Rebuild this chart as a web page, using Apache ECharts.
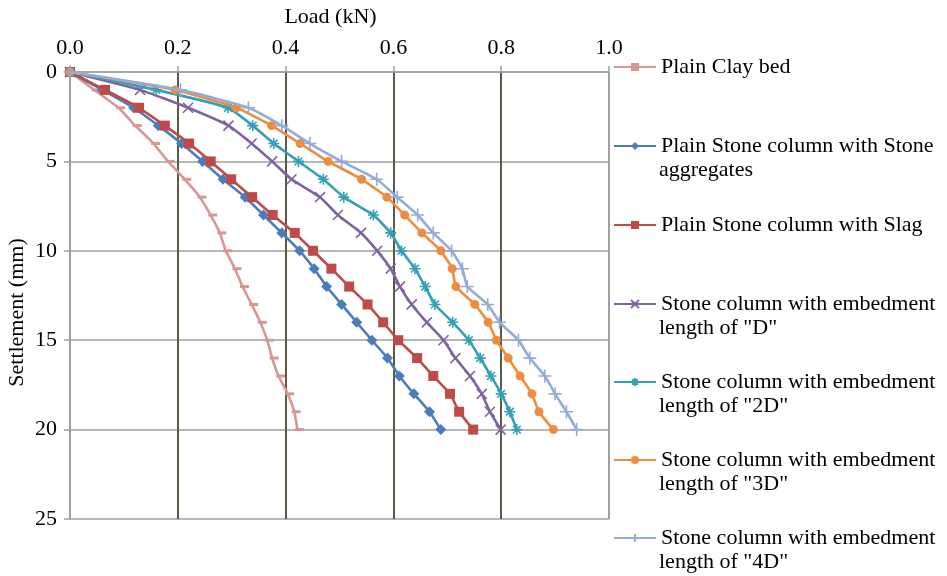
<!DOCTYPE html>
<html>
<head>
<meta charset="utf-8">
<script src="https://cdn.jsdelivr.net/npm/echarts@6/dist/echarts.min.js"></script>
<style>
html,body{margin:0;padding:0;background:#fff;}
#chart{width:947px;height:576px;}
</style>
</head>
<body>
<div id="chart"></div>
<script>
// Settlement (mm) at each reading
const settlement = [0,1,2,3,4,5,6,7,8,9,10,11,12,13,14,15,16,17,18,19,20];
// Load (kN) per series
const clayBed   = [0,0.045,0.090,0.121,0.155,0.182,0.213,0.241,0.261,0.278,0.289,0.306,0.320,0.337,0.353,0.366,0.375,0.387,0.404,0.416,0.422];
const stoneAgg  = [0,0.060,0.118,0.164,0.207,0.246,0.284,0.325,0.359,0.393,0.426,0.453,0.476,0.504,0.532,0.560,0.589,0.611,0.638,0.667,0.688];
const slag      = [0,0.065,0.128,0.176,0.221,0.261,0.299,0.338,0.376,0.417,0.451,0.485,0.518,0.552,0.581,0.609,0.644,0.674,0.705,0.722,0.748];
const embedD    = [0,0.130,0.219,0.294,0.337,0.375,0.411,0.464,0.497,0.540,0.570,0.595,0.612,0.634,0.662,0.693,0.715,0.742,0.764,0.779,0.799];
const embed2D   = [0,0.160,0.293,0.339,0.378,0.424,0.470,0.508,0.563,0.595,0.615,0.640,0.659,0.677,0.710,0.740,0.761,0.781,0.800,0.816,0.829];
const embed3D   = [0,0.195,0.309,0.374,0.427,0.479,0.541,0.588,0.621,0.653,0.688,0.709,0.716,0.751,0.776,0.791,0.813,0.835,0.857,0.870,0.897];
const embed4D   = [0,0.205,0.331,0.393,0.445,0.504,0.569,0.607,0.645,0.674,0.708,0.728,0.737,0.775,0.797,0.832,0.853,0.881,0.900,0.921,0.940];
const xTicks = [0.0,0.2,0.4,0.6,0.8,1.0];
const yTicks = [0,5,10,15,20,25];

const names = [
  ['Plain Clay bed', ''],
  ['Plain Stone column with Stone', 'aggregates'],
  ['Plain Stone column with Slag', ''],
  ['Stone column with embedment', 'length of "D"'],
  ['Stone column with embedment', 'length of "2D"'],
  ['Stone column with embedment', 'length of "3D"'],
  ['Stone column with embedment', 'length of "4D"']
];
const values = [clayBed, stoneAgg, slag, embedD, embed2D, embed3D, embed4D];
const colors = ['#D99694','#4A7EBB','#BE4B48','#7E649E','#33A0B8','#EE8C3F','#94AAD8'];
const FONT = '"Liberation Serif", "Times New Roman", serif';

const symX = 'path://M0,0L10,10M10,0L0,10';
const symStar = 'path://M0,5L10,5M5,0L5,10M1.5,1.5L8.5,8.5M8.5,1.5L1.5,8.5';
const symPlus = 'path://M0,5L10,5M5,0L5,10';
const symbols = [
  {symbol:'path://M0,0H10V3H0Z', size:[9,3], offset:[2,0], stroke:false},
  {symbol:'diamond', size:11, stroke:false},
  {symbol:'rect', size:10, stroke:false},
  {symbol:symX, size:10, stroke:true},
  {symbol:symStar, size:11, stroke:true},
  {symbol:'circle', size:9, stroke:false},
  {symbol:symPlus, size:13, stroke:true}
];

const fullName = n => n[1] ? n[0] + ' ' + n[1] : n[0];

const series = values.map((vals, i) => ({
  type: 'line',
  name: fullName(names[i]),
  data: vals.map((v, k) => [v, settlement[k]]),
  symbol: symbols[i].symbol,
  symbolSize: symbols[i].size,
  symbolOffset: symbols[i].offset || [0,0],
  showAllSymbol: true,
  smooth: 0.15,
  lineStyle: {color: colors[i], width: 2.6},
  itemStyle: symbols[i].stroke
    ? {color: colors[i], borderColor: colors[i], borderWidth: 1.6}
    : {color: colors[i], borderWidth: 0},
  z: 2 + i
}));

const legendTops = [67, 146, 225, 304, 382, 460, 538];
const legends = names.map((n, i) => ({
  data: [fullName(n)],
  left: 613,
  top: legendTops[i] - 12,
  orient: 'vertical',
  padding: 0,
  itemWidth: 42,
  itemHeight: 10,
  itemGap: 4,
  formatter: () => n[0],
  textStyle: {fontFamily: FONT, fontSize: 22, color: '#000', lineHeight: 24}
}));

const graphics = [];
names.forEach((n, i) => {
  if (n[1]) {
    graphics.push({
      type: 'text',
      left: 659,
      top: legendTops[i] + 13,
      style: {text: n[1], font: '22px ' + FONT, fill: '#000'}
    });
  }
});

const chart = echarts.init(document.getElementById('chart'));
chart.setOption({
  animation: false,
  backgroundColor: '#fff',
  grid: {left: 70, right: 338, top: 72, bottom: 57, containLabel: false, outerBoundsMode: 'none'},
  xAxis: {
    type: 'value', position: 'top',
    min: xTicks[0], max: xTicks[xTicks.length-1], interval: 0.2,
    name: 'Load (kN)', nameLocation: 'middle', nameGap: 44,
    nameTextStyle: {fontFamily: FONT, fontSize: 22, color: '#000', padding: [0, 18, 0, 0]},
    axisLabel: {formatter: v => v.toFixed(1), fontFamily: FONT, fontSize: 22, color: '#000', margin: 13},
    axisLine: {show: true, lineStyle: {color: '#A0A0A0', width: 1.5}},
    axisTick: {show: true, length: 6, lineStyle: {color: '#A0A0A0', width: 1.5}},
    splitLine: {show: true, lineStyle: {color: ['#A0A0A0','#5C5A45','#5C5A45','#5C5A45','#5C5A45','#A0A0A0'], width: 2}}
  },
  yAxis: {
    type: 'value', inverse: true,
    min: yTicks[0], max: yTicks[yTicks.length-1], interval: 5,
    name: 'Settlement (mm)', nameLocation: 'middle', nameGap: 42, nameRotate: 90,
    nameMoveOverlap: false,
    nameTextStyle: {fontFamily: FONT, fontSize: 22, color: '#000', padding: [0, 34, 0, 0]},
    axisLabel: {fontFamily: FONT, fontSize: 22, color: '#000', margin: 13},
    axisLine: {show: true, lineStyle: {color: '#A0A0A0', width: 1.5}},
    axisTick: {show: true, length: 6, lineStyle: {color: '#A0A0A0', width: 1.5}},
    splitLine: {show: true, lineStyle: {color: '#A0A0A0', width: 1.5}}
  },
  legend: legends,
  graphic: graphics,
  series: series
});
</script>
</body>
</html>
